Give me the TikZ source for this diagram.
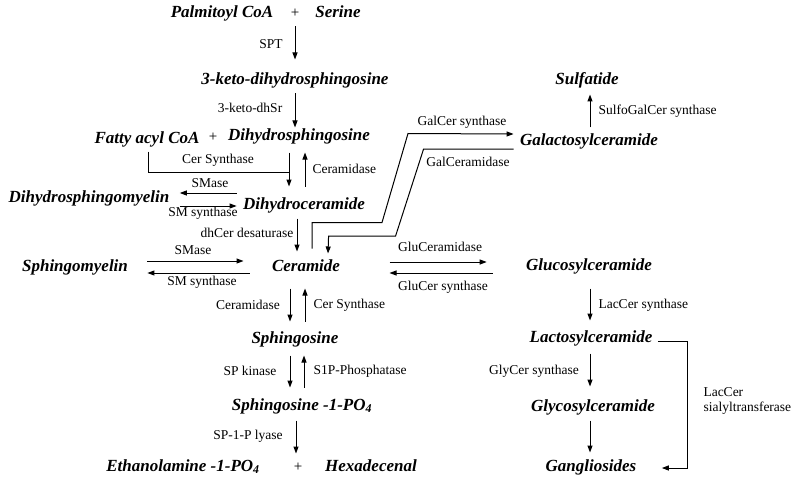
\documentclass[tikz,border=0pt]{standalone}
\usepackage{fontspec}
\setmainfont{Liberation Serif}
\usepackage{tikz}
\usetikzlibrary{arrows.meta}

\begin{document}
\begin{tikzpicture}[x=1pt, y=-1pt, line width=1pt, >={Triangle[length=7pt,width=5pt]},
    comp/.style={font=\fontsize{17}{20}\selectfont\bfseries\itshape, inner sep=0pt, text height=12pt, text depth=4pt},
    plus/.style={font=\fontsize{15}{18}\selectfont, inner sep=0pt, text height=12pt, text depth=4pt},
    enz/.style={font=\fontsize{13.5}{15}\selectfont, inner sep=0pt}]
    \useasboundingbox (0,0) rectangle (800,484);

    \node[comp] (palm) at (222,14) {Palmitoyl CoA};
    \node[plus] (plus1) at (295,14) {+};
    \node[comp] (ser) at (338,14) {Serine};
    \node[comp] (keto) at (295,81) {3-keto-dihydrosphingosine};
    \node[comp] (fatty) at (147,139) {Fatty acyl CoA};
    \node[plus] (plus2) at (213,138) {+};
    \node[comp] (dhs) at (299,137) {Dihydrosphingosine};
    \node[comp] (dhsm) at (89,198) {Dihydrosphingomyelin};
    \node[comp] (dhc) at (304,205) {Dihydroceramide};
    \node[comp] (sm) at (75,267) {Sphingomyelin};
    \node[comp] (cer) at (306,267) {Ceramide};
    \node[comp] (sph) at (295,339) {Sphingosine};
    \node[comp] (s1p) at (302,406) {Sphingosine -1-PO\textsubscript{4}};
    \node[comp] (eth) at (183,467) {Ethanolamine -1-PO\textsubscript{4}};
    \node[plus] (plus3) at (298,467) {+};
    \node[comp] (hex) at (371,467) {Hexadecenal};
    \node[comp] (sulf) at (587,81) {Sulfatide};
    \node[comp] (galc) at (589,142) {Galactosylceramide};
    \node[comp] (gluc) at (589,266) {Glucosylceramide};
    \node[comp] (lacc) at (591,338) {Lactosylceramide};
    \node[comp] (glyc) at (593,407) {Glycosylceramide};
    \node[comp] (gang) at (591,467) {Gangliosides};

    \node[enz] (lspt) at (271,44) {SPT};
    \node[enz] (lkdhsr) at (250,108) {3-keto-dhSr};
    \node[enz] (lcers1) at (218,160) {Cer Synthase};
    \node[enz, anchor=west] (lcdase1) at (312,169) {Ceramidase};
    \node[enz] (lsmase1) at (210,183) {SMase};
    \node[enz] (lsms1) at (203,213) {SM synthase};
    \node[enz] (ldes) at (247,233) {dhCer desaturase};
    \node[enz] (lsmase2) at (193,250) {SMase};
    \node[enz] (lsms2) at (202,282) {SM synthase};
    \node[enz] (lcdase2) at (248,305) {Ceramidase};
    \node[enz, anchor=west] (lcers2) at (313,305) {Cer Synthase};
    \node[enz] (lspk) at (250,371) {SP kinase};
    \node[enz, anchor=west] (ls1pp) at (313,371) {S1P-Phosphatase};
    \node[enz] (llyase) at (248,436) {SP-1-P lyase};
    \node[enz] (lgals) at (462,122) {GalCer synthase};
    \node[enz] (lgalc) at (468,162) {GalCeramidase};
    \node[enz, anchor=west] (lsulfo) at (598,111) {SulfoGalCer synthase};
    \node[enz] (lgluc) at (440,247) {GluCeramidase};
    \node[enz] (lglus) at (443,287) {GluCer synthase};
    \node[enz, anchor=west] (llacs) at (598,305) {LacCer synthase};
    \node[enz] (lglys) at (534,371) {GlyCer synthase};
    \node[enz, anchor=west, align=left] (lsial) at (703,401) {LacCer\\sialyltransferase};

    \draw[->] ([yshift=-4pt]plus1.south) -- ([yshift=13pt]keto.north);
    \draw[->] ([yshift=-4pt]keto.south) -- ([xshift=-4pt,yshift=1pt]dhs.north);
    \draw[->] ([xshift=-10pt,yshift=-7pt]dhs.south) -- ([xshift=-15pt,yshift=10pt]dhc.north);
    \draw ([xshift=1pt,yshift=-4pt]fatty.south) |- ([xshift=-10pt,yshift=-27pt]dhs.south);
    \draw[->] ([xshift=1pt,yshift=10pt]dhc.north) -- ([xshift=6pt,yshift=-7pt]dhs.south);
    \draw[->] ([xshift=-6pt,yshift=12pt]dhc.west) -- ([xshift=10pt,yshift=5pt]dhsm.east);
    \draw[->] ([xshift=10pt,yshift=-8pt]dhsm.east) -- ([xshift=-6pt,yshift=-1pt]dhc.west);
    \draw[->] ([xshift=-7pt,yshift=-5pt]dhc.south) -- ([xshift=-9pt,yshift=7pt]cer.north);
    \draw[->] ([xshift=19pt,yshift=6pt]sm.east) -- ([xshift=-28pt,yshift=6pt]cer.west);
    \draw[->] ([xshift=-22pt,yshift=-6pt]cer.west) -- ([xshift=19pt,yshift=-6pt]sm.east);
    \draw[->] ([xshift=-16pt,yshift=-13pt]cer.south) -- ([xshift=-5pt,yshift=9pt]sph.north);
    \draw[->] ([xshift=10pt,yshift=9pt]sph.north) -- ([xshift=-1pt,yshift=-13pt]cer.south);
    \draw[->] ([xshift=-5pt,yshift=-8pt]sph.south) -- ([xshift=-12pt,yshift=10pt]s1p.north);
    \draw[->] ([xshift=2pt,yshift=10pt]s1p.north) -- ([xshift=9pt,yshift=-8pt]sph.south);
    \draw[->] ([xshift=-6pt,yshift=-6pt]s1p.south) -- ([xshift=-2pt,yshift=5pt]plus3.north);

    \draw[->] ([xshift=6pt,yshift=10pt]cer.north) -- ++(0,-26) -- ++(70,0) -- ++(26,-89) -- ([xshift=-6pt,yshift=8pt]galc.west);
    \draw[->] ([xshift=-6pt,yshift=-7pt]galc.west) -- ++(-90,0) -- ++(-28,87) -- ++(-67,0) -- ([xshift=22pt,yshift=5pt]cer.north);
    \draw[->] ([xshift=1pt,yshift=6pt]galc.north) -- ([xshift=3pt,yshift=-5pt]sulf.south);
    \draw[->] ([xshift=49pt,yshift=5pt]cer.east) -- ([xshift=-39pt,yshift=4pt]gluc.west);
    \draw[->] ([xshift=-33pt,yshift=-7pt]gluc.west) -- ([xshift=49pt,yshift=-6pt]cer.east);
    \draw[->] ([xshift=1pt,yshift=-14pt]gluc.south) -- ([xshift=-1pt,yshift=9pt]lacc.north);
    \draw[->] ([xshift=-1pt,yshift=-7pt]lacc.south) -- ([xshift=-3pt,yshift=12pt]glyc.north);
    \draw[->] ([xshift=-3pt,yshift=-5pt]glyc.south) -- ([xshift=-1pt,yshift=6pt]gang.north);
    \draw[->] ([xshift=5pt,yshift=-3pt]lacc.east) -- ++(30,0) |- ([xshift=25pt,yshift=-1pt]gang.east);
\end{tikzpicture}
\end{document}
